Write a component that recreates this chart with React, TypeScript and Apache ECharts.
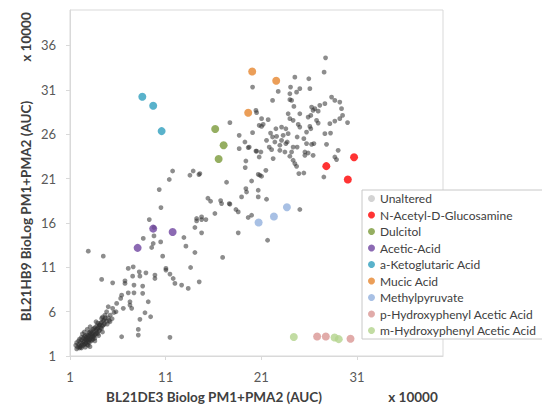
import React, { useEffect, useRef } from "react";
import * as echarts from "echarts";

const xTickLabels = ["1", "11", "21", "31"];
const yTickLabels = ["1", "6", "11", "16", "21", "26", "31", "36"];

const seriesNames = [
  "Unaltered",
  "N-Acetyl-D-Glucosamine",
  "Dulcitol",
  "Acetic-Acid",
  "a-Ketoglutaric Acid",
  "Mucic Acid",
  "Methylpyruvate",
  "p-Hydroxyphenyl Acetic Acid",
  "m-Hydroxyphenyl Acetic Acid",
];

const unaltered: number[][] = [
  [19.29, 25.12], [18.69, 24.37], [19.63, 24.49], [20.44, 24.1], [19.39, 22.98], [19.32, 22.24],
  [20.68, 21.48], [11.73, 21.85], [13.88, 21.85], [13.54, 21.37], [14.48, 21.45], [11.38, 20.89],
  [17.37, 20.58], [19.99, 20.73], [10.33, 19.76], [19.39, 19.87], [19.46, 19.49], [20.68, 19.68],
  [15.7, 18.44], [16.75, 18.52], [17.65, 18.18], [18.94, 18.93], [20.68, 18.93], [10.51, 17.73],
  [18.35, 17.51], [18.59, 17.24], [16.15, 17.06], [19.99, 16.87], [19.63, 16.61], [9.29, 16.38],
  [14.24, 16.5], [14.24, 16.23], [14.76, 16.38], [15.21, 16.38], [9.78, 15.48], [14.06, 15.48],
  [9.78, 14.54], [8.66, 14.25], [10.48, 13.86], [14.76, 14.88], [18.59, 14.88], [12.91, 14.36],
  [9.7, 13.68], [9.54, 13.23], [13.12, 13.38], [14.06, 12.67], [10.69, 12.25], [16.96, 12.11],
  [7.61, 11.05], [13.61, 10.98], [11.03, 10.87],
  [2.91, 12.82], [4.48, 12.25], [7.09, 10.87], [8.24, 10.49], [8.94, 10.37], [9.88, 10.12],
  [9.88, 9.74], [11.03, 10.68], [11.45, 10.23], [11.97, 9.18], [7.55, 10.0], [8.31, 10.0],
  [4.31, 9.63], [5.46, 9.25], [6.75, 9.47], [6.75, 9.18], [7.69, 8.99], [8.6, 8.88], [7.09, 8.12],
  [7.69, 8.12], [8.6, 8.06], [6.4, 7.86], [6.3, 7.49], [9.18, 7.11], [5.88, 6.93], [7.27, 7.11],
  [7.27, 6.74], [5.0, 6.55], [5.46, 6.37], [6.57, 6.37], [7.45, 6.37], [4.83, 5.99], [5.81, 5.99],
  [8.84, 5.87], [4.66, 5.61], [9.43, 5.42], [8.31, 5.13], [4.31, 5.24], [3.72, 4.86], [5.18, 4.86],
  [4.06, 4.49], [8.14, 4.0], [8.14, 3.36], [6.4, 3.17], [11.45, 3.1], [3.09, 2.05],
  [14.51, 9.36], [13.36, 8.62], [12.67, 8.99], [11.79, 9.74],
  [14.76, 16.68], [16.85, 18.18], [17.72, 18.11], [25.03, 17.51], [21.66, 14.05],
  [27.72, 34.61], [27.57, 32.99], [20.09, 31.31], [24.51, 32.43], [25.97, 32.25], [24.06, 31.31],
  [25.03, 31.13], [22.77, 30.82], [26.08, 31.13], [24.69, 30.74], [23.99, 30.56], [22.18, 29.81],
  [23.99, 29.89], [24.17, 29.81], [24.41, 29.13], [28.35, 30.18], [28.69, 29.81], [29.21, 29.62],
  [27.65, 29.44], [27.12, 29.25], [26.26, 29.06], [26.6, 28.88], [26.42, 28.68], [26.95, 28.6],
  [20.44, 28.68], [20.51, 28.43], [23.81, 28.31], [25.03, 28.31], [26.18, 28.12], [29.5, 28.12],
  [29.39, 28.88], [29.21, 27.75], [28.69, 27.48], [17.72, 27.3], [21.03, 27.75], [21.72, 27.64],
  [23.99, 27.75], [26.78, 27.56], [25.9, 27.93], [24.33, 27.56], [20.78, 27.0], [21.03, 26.88],
  [21.2, 27.11], [24.86, 27.11], [25.03, 26.8], [23.12, 26.8], [23.57, 26.62], [22.53, 26.62],
  [26.08, 26.88], [26.18, 26.62], [26.95, 27.25], [28.17, 27.19], [28.24, 26.13], [30.02, 27.31],
  [20.09, 26.17], [18.69, 25.87], [21.97, 26.13], [22.18, 25.68], [22.6, 25.76], [23.29, 25.87],
  [23.81, 26.06], [24.75, 25.68], [25.45, 25.5], [27.65, 26.06], [25.73, 26.24], [19.74, 24.55],
  [21.55, 25.31], [21.83, 24.55], [22.08, 24.26], [22.42, 25.12], [22.94, 24.75], [23.12, 25.31],
  [23.57, 24.94], [23.71, 25.12], [24.33, 24.55], [24.75, 24.55], [25.73, 24.94], [26.26, 24.86],
  [26.5, 24.94], [27.82, 24.86], [29.04, 24.18], [20.51, 24.1], [20.96, 23.99], [22.94, 24.18],
  [23.47, 23.99], [24.17, 23.99], [25.56, 23.99], [25.9, 23.88], [26.42, 23.62], [25.56, 23.62],
  [28.69, 23.43], [28.87, 23.14], [24.33, 23.06], [24.51, 22.69], [24.69, 22.38], [22.24, 23.25],
  [23.99, 23.51], [20.78, 23.43], [21.48, 21.93], [20.85, 21.37], [21.03, 21.26], [24.93, 21.56],
  [25.45, 21.63], [27.54, 21.18], [21.55, 18.67], [14.58, 21.56], [15.42, 18.78],
  [1.8, 2.0], [1.9, 2.3], [2.0, 2.1], [2.1, 2.5], [2.2, 2.2], [2.2, 2.8], [2.3, 2.4], [2.4, 2.6],
  [2.4, 3.0], [2.5, 2.3], [2.5, 2.7], [2.6, 2.9], [2.6, 3.3], [2.7, 2.5], [2.7, 3.1], [2.8, 2.8],
  [2.8, 3.4], [2.9, 3.0], [2.9, 2.6], [3.0, 3.2], [3.0, 3.6], [3.1, 2.9], [3.1, 3.4], [3.2, 3.1],
  [3.2, 3.8], [3.3, 3.3], [3.3, 2.8], [3.4, 3.5], [3.4, 4.0], [3.5, 3.2], [3.5, 3.7], [3.6, 3.4],
  [3.6, 4.2], [3.7, 3.9], [3.8, 3.6], [3.8, 4.4], [3.9, 4.1], [4.0, 3.8], [4.1, 4.5], [4.2, 4.2],
  [4.3, 4.8], [4.4, 4.4], [4.5, 5.0], [4.6, 4.6], [4.7, 5.3], [2.3, 3.5], [1.7, 1.8], [2.0, 1.9],
  [3.0, 2.5], [3.4, 2.9], [4.0, 3.3], [2.6, 2.0], [4.8, 4.9], [5.0, 5.3], [5.2, 5.6], [3.9, 4.7],
  [4.4, 5.4], [2.0, 2.9], [2.8, 4.0], [1.9, 2.7],
  [1.6, 2.2], [1.7, 2.5], [2.1, 2.0], [2.2, 3.1], [2.4, 2.2], [2.5, 3.2], [2.6, 2.4], [2.7, 2.8],
  [2.8, 2.3], [2.9, 3.3], [3.0, 2.8], [3.1, 3.7], [3.2, 2.7], [3.3, 3.6], [3.4, 3.2], [3.5, 4.1],
  [3.6, 3.0], [3.7, 3.5], [3.8, 4.0], [3.9, 3.5], [4.0, 4.3], [4.1, 3.9], [4.2, 4.7], [4.3, 4.1],
  [4.5, 4.5], [4.6, 5.1], [4.9, 4.6], [5.1, 5.0], [2.2, 1.9], [2.9, 2.2], [3.6, 2.7], [4.4, 3.7],
  [3.1, 4.3], [2.5, 3.7], [5.4, 5.2], [5.6, 5.9],
];

const nAcetylGlucosamine: number[][] = [[27.8, 22.4], [30.7, 23.4], [30.05, 20.9]];
const dulcitol: number[][] = [[16.18, 26.58], [17.06, 24.75], [16.54, 23.2]];
const aceticAcid: number[][] = [[8.07, 13.19], [9.7, 15.36], [11.73, 14.98]];
const aKetoglutaric: number[][] = [[8.56, 30.23], [9.7, 29.2], [10.58, 26.35]];
const mucicAcid: number[][] = [[20.05, 33.07], [22.56, 32.03], [19.63, 28.42]];
const methylpyruvate: number[][] = [[20.72, 16.04], [22.32, 16.72], [23.68, 17.77]];
const pHydroxyphenyl: number[][] = [[26.84, 3.2], [27.75, 3.2], [30.33, 2.95]];
const mHydroxyphenyl: number[][] = [[24.4, 3.14], [28.66, 3.08], [29.1, 2.9]];

const seriesData = [
  unaltered, nAcetylGlucosamine, dulcitol, aceticAcid, aKetoglutaric,
  mucicAcid, methylpyruvate, pHydroxyphenyl, mHydroxyphenyl,
];
const seriesColors = [
  "rgba(45,45,45,0.68)", "#ff0000", "#7a9a3a", "#6f45a0", "#2f9fbe",
  "#e6862e", "#92b0dd", "#d99694", "#b3d38c",
];

const FONT = "Lato, 'Open Sans', sans-serif";

export default function App() {
  const ref = useRef<HTMLDivElement>(null);
  useEffect(() => {
    if (!ref.current) return;
    const chart = echarts.init(ref.current, undefined, { renderer: "svg" });
    const axisCommon = {
      type: "value" as const,
      min: 1,
      max: 40,
      splitLine: { show: false },
      axisLine: { show: true, lineStyle: { color: "#d9d9d9", width: 1 } },
      axisTick: { show: true, length: 4, lineStyle: { color: "#d9d9d9" } },
    };
    chart.setOption({
      animation: false,
      backgroundColor: "#ffffff",
      grid: {
        left: 70, right: 99, top: 10, bottom: 49,
        show: true, borderColor: "#d9d9d9", borderWidth: 1, backgroundColor: "transparent",
      },
      xAxis: {
        ...axisCommon,
        interval: 10,
        axisLabel: {
          showMaxLabel: false, margin: 14, fontSize: 13, color: "#595959", fontFamily: FONT,
          formatter: (v: number) => (xTickLabels.includes(String(v)) ? String(v) : ""),
        },
      },
      yAxis: {
        ...axisCommon,
        interval: 5,
        axisLabel: {
          showMaxLabel: false, margin: 14, fontSize: 13, color: "#595959", fontFamily: FONT,
          formatter: (v: number) => (yTickLabels.includes(String(v)) ? String(v) : ""),
        },
      },
      legend: {
        orient: "vertical",
        left: 362,
        top: 190,
        padding: [2, 40, 2, 6],
        itemGap: 3.5,
        itemWidth: 7,
        itemHeight: 7,
        icon: "circle",
        backgroundColor: "#ffffff",
        borderColor: "#c8c8c8",
        borderWidth: 1,
        borderRadius: 0,
        textStyle: { fontSize: 12, color: "#404040", fontFamily: FONT, lineHeight: 13 },
        data: seriesNames.map((n, i) =>
          i === 0 ? { name: n, itemStyle: { color: "#c8c8c8" } } : { name: n }
        ),
      },
      series: seriesNames.map((name, i) => ({
        name,
        type: "scatter",
        data: seriesData[i],
        symbol: "circle",
        symbolSize: i === 0 ? 4.8 : 8,
        itemStyle: { color: seriesColors[i] },
        z: i === 0 ? 2 : 3,
      })),
      graphic: [
        {
          type: "text", x: 26, y: 211, rotation: Math.PI / 2,
          style: {
            text: "BL21HB9 BioLog PM1+PMA2 (AUC)", fontSize: 13.5, fontWeight: "bold",
            fill: "#404040", fontFamily: FONT, align: "center", verticalAlign: "middle",
          },
        },
        {
          type: "text", x: 26, y: 37, rotation: Math.PI / 2,
          style: {
            text: "x 10000", fontSize: 13.5, fontWeight: "bold",
            fill: "#404040", fontFamily: FONT, align: "center", verticalAlign: "middle",
          },
        },
        {
          type: "text", x: 214, y: 397,
          style: {
            text: "BL21DE3 Biolog PM1+PMA2 (AUC)", fontSize: 13.5, fontWeight: "bold",
            fill: "#404040", fontFamily: FONT, align: "center", verticalAlign: "middle",
          },
        },
        {
          type: "text", x: 413, y: 397,
          style: {
            text: "x 10000", fontSize: 13.5, fontWeight: "bold",
            fill: "#404040", fontFamily: FONT, align: "center", verticalAlign: "middle",
          },
        },
      ],
    });
    return () => chart.dispose();
  }, []);
  return <div ref={ref} style={{ width: 542, height: 405, position: "absolute", left: 0, top: 0 }} />;
}
